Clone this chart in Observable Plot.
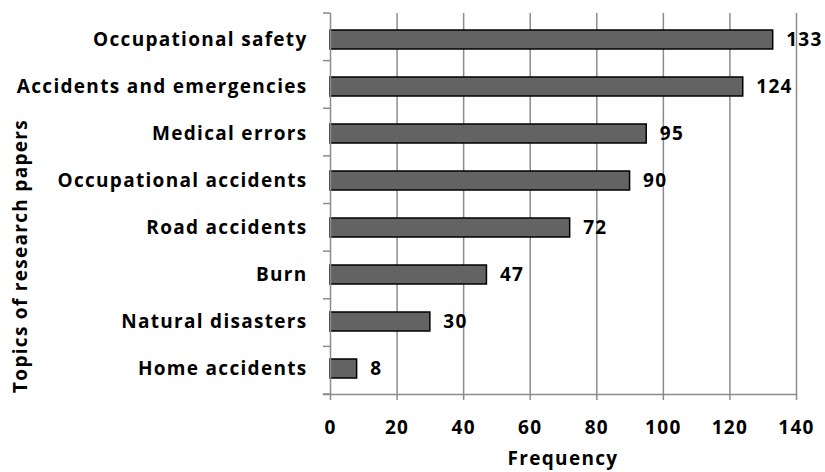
<!DOCTYPE html>
<html><head><meta charset="utf-8">
<script src="https://cdn.jsdelivr.net/npm/d3@7"></script>
<script src="https://cdn.jsdelivr.net/npm/@observablehq/plot@0.6"></script>
<style>
body{margin:0;background:#fff;}
svg{font-family:"Open Sans",sans-serif;font-weight:bold;}
svg text{letter-spacing:1.3px;}
</style></head>
<body><div id="chart"></div>
<script>
const topics = ["Occupational safety","Accidents and emergencies","Medical errors","Occupational accidents","Road accidents","Burn","Natural disasters","Home accidents"];
const frequency = [133,124,95,90,72,47,30,8];
const xTicks = [0,20,40,60,80,100,120,140];
const xLabel = "Frequency";
const yLabel = "Topics of research papers";

const data = topics.map((t,i)=>({topic:t, value:frequency[i]}));
const FS = 19;
const grid = "#8c8c8c";

const plot = Plot.plot({
  width: 825, height: 472,
  marginLeft: 330, marginRight: 29, marginTop: 13, marginBottom: 78,
  style: {fontFamily: "'Open Sans', sans-serif", fontWeight: "bold", background: "#fff", fontSize: FS + "px"},
  x: {domain: [0,140], ticks: xTicks, label: null},
  y: {domain: topics, padding: 0, label: null},
  marks: [
    Plot.ruleX(xTicks.filter(d=>d>0), {stroke: grid, strokeWidth: 1.5}),
    Plot.barX(data, {x: "value", y: "topic", fill: "#636363", stroke: "#000", strokeWidth: 1.5, insetTop: 14, insetBottom: 14}),
    Plot.text(data, {x: "value", y: "topic", text: d=>String(d.value), textAnchor: "start", dx: 13, fontSize: FS, fontWeight: "bold", fill: "#000"}),
    Plot.axisX({ticks: xTicks, tickSize: 6, tickPadding: 20, fontSize: FS, fontWeight: "bold", stroke: grid, strokeWidth: 1.5, strokeOpacity: 1, label: null}),
    Plot.axisY({tickSize: 0, tickPadding: 23, fontSize: FS, fontWeight: "bold", label: null}),
    Plot.frame({anchor: "left", stroke: grid, strokeWidth: 1.5}),
    Plot.frame({anchor: "bottom", stroke: grid, strokeWidth: 1.5, insetLeft: -7})
  ]
});

const svg = d3.select(plot);
const x = plot.scale("x");
const x0 = x.apply(0);
const yTop = 13, yBot = 472-78;
const bandStep = (yBot - yTop)/topics.length;
const g = svg.append("g").attr("stroke", grid).attr("stroke-width",1.5);
for (let i=0;i<=topics.length;i++){
  g.append("line").attr("x1",x0-7).attr("x2",x0).attr("y1",yTop+i*bandStep).attr("y2",yTop+i*bandStep);
}
svg.append("text").attr("x", (x0 + x.apply(140))/2).attr("y", 465)
  .attr("text-anchor","middle").attr("font-size",FS).attr("font-weight","bold").text(xLabel);
svg.append("text").attr("transform","translate(27,256) rotate(-90)")
  .attr("text-anchor","middle").attr("font-size",FS).attr("font-weight","bold").text(yLabel);

document.getElementById("chart").appendChild(plot);
</script></body></html>
